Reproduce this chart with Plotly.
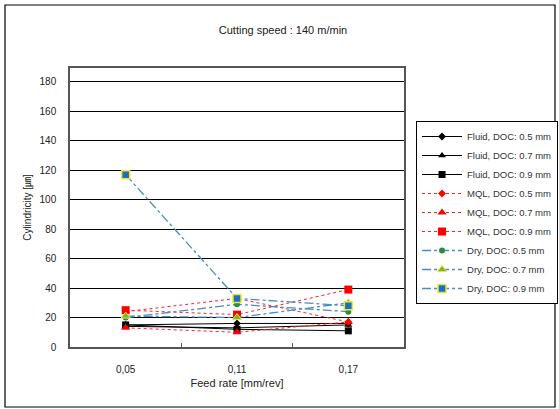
import plotly.graph_objects as go

feed_rates = ["0,05", "0,11", "0,17"]
series_names = [
    "Fluid, DOC: 0.5 mm", "Fluid, DOC: 0.7 mm", "Fluid, DOC: 0.9 mm",
    "MQL, DOC: 0.5 mm", "MQL, DOC: 0.7 mm", "MQL, DOC: 0.9 mm",
    "Dry, DOC: 0.5 mm", "Dry, DOC: 0.7 mm", "Dry, DOC: 0.9 mm",
]
fluid_05 = [15, 16, 16]
fluid_07 = [14, 13, 15]
fluid_09 = [15, 12, 11]
mql_05 = [24, 33, 17]
mql_07 = [13, 10, 17]
mql_09 = [25, 22, 39]
dry_05 = [20, 29, 24]
dry_07 = [21, 20, 30]
dry_09 = [117, 33, 28]
y_ticks = [0, 20, 40, 60, 80, 100, 120, 140, 160, 180]

values = [fluid_05, fluid_07, fluid_09, mql_05, mql_07, mql_09, dry_05, dry_07, dry_09]
styles = [
    dict(line=dict(color="black", width=1, dash="solid"), marker=dict(symbol="diamond", color="black", size=6)),
    dict(line=dict(color="black", width=1, dash="solid"), marker=dict(symbol="triangle-up", color="black", size=7)),
    dict(line=dict(color="black", width=1, dash="solid"), marker=dict(symbol="square", color="black", size=7)),
    dict(line=dict(color="#ff2020", width=1, dash="dot"), marker=dict(symbol="diamond", color="#ff0000", size=6)),
    dict(line=dict(color="#ff2020", width=1, dash="dot"), marker=dict(symbol="triangle-up", color="#ff0000", size=8)),
    dict(line=dict(color="#ff2020", width=1, dash="dot"), marker=dict(symbol="square", color="#ff0000", size=8)),
    dict(line=dict(color="#4a8cc4", width=1.3, dash="dashdot"), marker=dict(symbol="circle", color="#2e8b3e", size=6)),
    dict(line=dict(color="#4a8cc4", width=1.3, dash="dashdot"), marker=dict(symbol="triangle-up", color="#7fb03a", size=8,
                                                                           line=dict(color="#e6e632", width=1))),
    dict(line=dict(color="#4a8cc4", width=1.3, dash="dashdot"), marker=dict(symbol="square", color="#1e6fc0", size=8,
                                                                           line=dict(color="#e8e83a", width=1.5))),
]

xpos = list(range(len(feed_rates)))
fig = go.Figure()
for name, vals, st in zip(series_names, values, styles):
    fig.add_trace(go.Scatter(x=xpos, y=vals, mode="lines+markers", name=name,
                             line=st["line"], marker=st["marker"]))

FONT = "Liberation Sans, Arial, sans-serif"
fig.update_layout(
    width=559, height=409,
    margin=dict(l=70, r=155, t=68, b=62, autoexpand=False),
    paper_bgcolor="white", plot_bgcolor="white",
    font=dict(family=FONT, size=10, color="#222"),
    showlegend=True,
    legend=dict(x=1.036, y=0.81, xanchor="left", yanchor="top",
                bordercolor="black", borderwidth=1, bgcolor="white",
                font=dict(size=9.5, color="#333"), tracegroupgap=0, itemwidth=40),
    xaxis=dict(range=[-0.5, 2.5], tickvals=xpos, ticktext=feed_rates, ticks="",
               showgrid=False, showline=True, linecolor="#555", linewidth=1.5, mirror=True,
               zeroline=False, ticklabelstandoff=12,
               minor=dict(tickvals=[0.5, 1.5], ticks="inside", ticklen=4, tickcolor="#555"),
               title=dict(text="Feed rate [mm/rev]", font=dict(size=11, color="#222"), standoff=6),
               tickfont=dict(size=10)),
    yaxis=dict(range=[0, 189.5], tickvals=y_ticks, showgrid=True, gridcolor="black", gridwidth=1,
               showline=True, linecolor="#555", linewidth=1.5, mirror=True, zeroline=False,
               ticks="", tickfont=dict(size=10), ticklabelstandoff=10,
               title=dict(text="Cylindricity [㎛]", font=dict(size=10, color="#222",
                                                            family="Liberation Sans, Noto Sans CJK KR"), standoff=6)),
    title=dict(text="Cutting speed : 140 m/min", x=283/559, xanchor="center", y=1 - 30/409, yanchor="middle",
               font=dict(size=11, color="#222")),
    shapes=[dict(type="rect", xref="paper", yref="paper",
                 x0=(5 - 70) / 334, x1=(555 - 70) / 334, y0=(347 - 407) / 279, y1=(347 - 5) / 279,
                 line=dict(color="black", width=1.2), fillcolor="rgba(0,0,0,0)", layer="below")],
)

fig.write_html("out.html")
